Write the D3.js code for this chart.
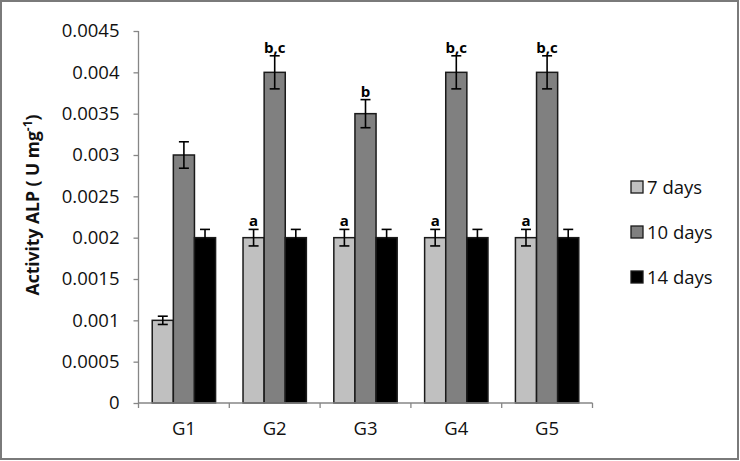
<!DOCTYPE html>
<html>
<head>
<meta charset="utf-8">
<script src="https://cdn.jsdelivr.net/npm/d3@7"></script>
<style>
  body { margin: 0; background: #fff; }
  svg { display: block; font-family: "Open Sans", sans-serif; }
</style>
</head>
<body>
<svg id="chart"></svg>
<script>
// data
const groups = ["G1", "G2", "G3", "G4", "G5"];
const series = ["7 days", "10 days", "14 days"];
const days7 = [0.001, 0.002, 0.002, 0.002, 0.002];
const days10 = [0.003, 0.004, 0.0035, 0.004, 0.004];
const days14 = [0.002, 0.002, 0.002, 0.002, 0.002];
const err7 = [0.00005, 0.0001, 0.0001, 0.0001, 0.0001];
const err10 = [0.00016, 0.0002, 0.00017, 0.0002, 0.0002];
const err14 = [0.0001, 0.0001, 0.0001, 0.0001, 0.0001];
const letters7 = ["", "a", "a", "a", "a"];
const letters10 = ["", "b,c", "b", "b,c", "b,c"];
const letters14 = ["", "", "", "", ""];
const yTicks = [0, 0.0005, 0.001, 0.0015, 0.002, 0.0025, 0.003, 0.0035, 0.004, 0.0045];
const colors = ["#c0c0c0", "#808080", "#000000"];

const W = 740, H = 461;
const margin = {top: 31, left: 138.5, right: 147.5, bottom: 58};

const svg = d3.select("#chart").attr("width", W).attr("height", H);

// outer frame
svg.append("rect")
  .attr("x", 1).attr("y", 1)
  .attr("width", W - 3).attr("height", H - 3)
  .attr("fill", "#fff").attr("stroke", "#7a7a7a").attr("stroke-width", 2);

const x0 = d3.scaleBand()
  .domain(groups)
  .range([margin.left, W - margin.right]);

const x1 = d3.scaleBand()
  .domain(series)
  .range([0, x0.bandwidth()])
  .paddingOuter(0.65);

const y = d3.scaleLinear()
  .domain([0, 0.0045])
  .range([H - margin.bottom, margin.top]);

const values = [days7, days10, days14];
const errs = [err7, err10, err14];
const letters = [letters7, letters10, letters14];

const rows = [];
groups.forEach((g, i) => {
  series.forEach((s, j) => {
    rows.push({g: g, s: s, j: j, v: values[j][i], e: errs[j][i], l: letters[j][i]});
  });
});

// bars
svg.append("g").selectAll("rect")
  .data(rows).enter()
  .append("rect")
  .attr("x", d => x0(d.g) + x1(d.s))
  .attr("y", d => y(d.v))
  .attr("width", x1.bandwidth())
  .attr("height", d => y(0) - y(d.v))
  .attr("fill", d => colors[d.j])
  .attr("stroke", "#1a1a1a")
  .attr("stroke-width", 1.5);

// error bars
const eb = svg.append("g").attr("stroke", "#000").attr("stroke-width", 1.6);
rows.forEach(d => {
  const cx = x0(d.g) + x1(d.s) + x1.bandwidth() / 2;
  eb.append("line").attr("x1", cx).attr("x2", cx).attr("y1", y(d.v + d.e)).attr("y2", y(d.v - d.e));
  eb.append("line").attr("x1", cx - 5).attr("x2", cx + 5).attr("y1", y(d.v + d.e)).attr("y2", y(d.v + d.e));
  eb.append("line").attr("x1", cx - 5).attr("x2", cx + 5).attr("y1", y(d.v - d.e)).attr("y2", y(d.v - d.e));
});

// significance letters
svg.append("g").selectAll("text")
  .data(rows.filter(d => d.l)).enter()
  .append("text")
  .attr("x", d => x0(d.g) + x1(d.s) + x1.bandwidth() / 2)
  .attr("y", d => y(d.v + d.e) - 3)
  .attr("text-anchor", "middle")
  .attr("font-size", 15)
  .attr("font-weight", "bold")
  .text(d => d.l);

// y axis
const yAxis = svg.append("g")
  .attr("transform", "translate(" + margin.left + ",0)")
  .call(d3.axisLeft(y).tickValues(yTicks).tickFormat(d => String(+d.toFixed(4))).tickSize(5).tickPadding(14));
yAxis.selectAll("path, line").attr("stroke", "#868686").attr("stroke-width", 1.3);
yAxis.select(".domain").attr("d", "M" + 0 + "," + y(0.0045) + "V" + y(0));
yAxis.selectAll("text").attr("font-size", 18.5).attr("font-family", "Open Sans, sans-serif").attr("fill", "#111");

// x axis
const xAxis = svg.append("g")
  .attr("transform", "translate(0," + y(0) + ")");
xAxis.append("line")
  .attr("x1", margin.left).attr("x2", W - margin.right)
  .attr("stroke", "#868686").attr("stroke-width", 1.3);
xAxis.selectAll("line.tick")
  .data(groups.map(g => x0(g)).concat([x0.range()[1]])).enter()
  .append("line").attr("class", "tick")
  .attr("x1", d => d).attr("x2", d => d).attr("y1", 0).attr("y2", 5)
  .attr("stroke", "#868686").attr("stroke-width", 1.3);
xAxis.selectAll("text")
  .data(groups).enter()
  .append("text")
  .attr("x", d => x0(d) + x0.bandwidth() / 2)
  .attr("y", 32)
  .attr("text-anchor", "middle")
  .attr("font-size", 18.5)
  .attr("fill", "#111")
  .text(d => d);

// y axis title
const title = svg.append("text")
  .attr("transform", "translate(39,205) rotate(-90)")
  .attr("text-anchor", "middle")
  .attr("font-size", 17.5)
  .attr("font-weight", "bold")
  .attr("fill", "#111");
title.append("tspan").text("Activity ALP ( U mg");
title.append("tspan").attr("font-size", 12).attr("dy", -7).text("-1");
title.append("tspan").attr("dy", 7).text(")");

// legend
const legend = svg.append("g").selectAll("g")
  .data(series).enter()
  .append("g")
  .attr("transform", (d, i) => "translate(631," + (187 + i * 45) + ")");
legend.append("rect")
  .attr("x", 0).attr("y", -6)
  .attr("width", 12).attr("height", 12)
  .attr("fill", (d, i) => colors[i])
  .attr("stroke", "#1a1a1a").attr("stroke-width", 1.3);
legend.append("text")
  .attr("x", 16).attr("y", 6.5)
  .attr("font-size", 18.5)
  .attr("fill", "#111")
  .text(d => d);
</script>
</body>
</html>
